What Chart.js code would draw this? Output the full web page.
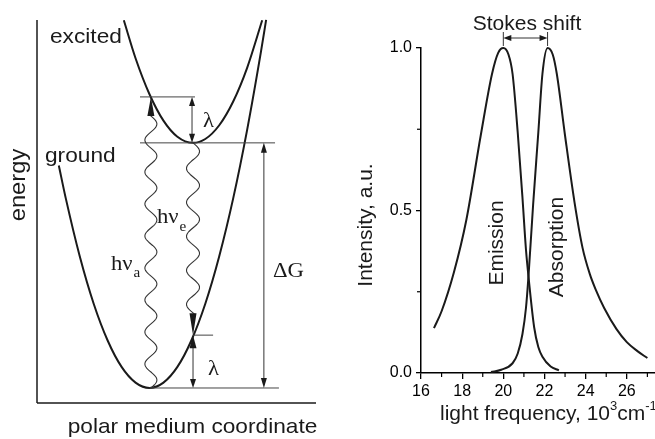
<!DOCTYPE html>
<html><head><meta charset="utf-8">
<script src="https://cdn.jsdelivr.net/npm/chart.js@4.4.1/dist/chart.umd.min.js"></script>
<style>
html,body{margin:0;padding:0;background:#fff;}
#wrap{position:relative;width:655px;height:439px;overflow:hidden;background:#fff}
#left{position:absolute;left:0;top:0;width:330px;height:439px}
#right{position:absolute;left:330px;top:0;width:325px;height:439px}
canvas{display:block}
</style></head><body>
<div id="wrap">
  <div id="left"><canvas id="c1" width="330" height="439"></canvas></div>
  <div id="right"><canvas id="c2" width="325" height="439"></canvas></div>
</div>
<script>
// ---------- Right panel: spectra ----------
const emissionFreq = [16.63, 17.0, 17.6, 18.2, 18.9, 19.45, 19.75, 20.0, 20.25, 20.45, 20.7, 20.93, 21.1, 21.25, 21.5, 21.7, 21.9, 22.3, 22.7];
const emissionInt  = [0.138, 0.19, 0.31, 0.47, 0.73, 0.92, 0.985, 1.0, 0.98, 0.92, 0.74, 0.54, 0.38, 0.28, 0.14, 0.08, 0.05, 0.02, 0.008];
const absorptionFreq = [19.4, 19.9, 20.45, 20.7, 20.93, 21.1, 21.22, 21.45, 21.7, 21.9, 22.15, 22.4, 22.6, 23.0, 23.46, 23.85, 24.2, 24.5, 24.9, 25.5, 26.0, 26.5, 27.0];
const absorptionInt  = [0.003, 0.01, 0.03, 0.06, 0.12, 0.2, 0.295, 0.52, 0.74, 0.92, 1.0, 0.98, 0.92, 0.73, 0.525, 0.385, 0.305, 0.255, 0.2, 0.135, 0.095, 0.068, 0.046];
const freqTicks = [16, 18, 20, 22, 24, 26];
const freqMinorTicks = [17, 19, 21, 23, 25, 27];
const intensityTicks = [0, 0.5, 1.0];
const intensityMinorTicks = [0.25, 0.75];

// ---------- Left panel: free-energy parabolas ----------
const groundCoord  = [-3.25, -3, -2.5, -2, -1.5, -1, -0.5, 0, 0.5, 1, 1.5, 2, 2.5, 3, 3.5, 4, 4.18];
const groundEnergy = [5.81, 4.95, 3.44, 2.2, 1.24, 0.55, 0.14, 0, 0.14, 0.55, 1.24, 2.2, 3.44, 4.95, 6.74, 8.8, 9.61];
const excitedCoord  = [-0.92, -0.5, 0, 0.5, 1, 1.56, 2, 2.5, 3, 3.5, 4.04];
const excitedEnergy = [9.6, 8.61, 7.67, 6.98, 6.56, 6.4, 6.5, 6.86, 7.48, 8.36, 9.6];
const groundMin = [0, 0];          // [coordinate, energy]
const excitedMin = [1.56, 6.4];    // [coordinate, energy]
const absorptionTransition = [0.05, 0, 7.6];   // [coordinate, from energy, to energy]
const emissionTransition = [1.56, 6.4, 1.38];  // [coordinate, from energy, to energy]
const deltaGCoord = 4.1;

const INK = '#1a1a1a';
const SANS = '"Liberation Sans", Arial, Helvetica, sans-serif';
const SERIF = '"Liberation Serif", "Times New Roman", serif';

function txt(ctx, s, x, y, font, align, sx, rot) {
  ctx.save();
  ctx.translate(x, y);
  if (rot) ctx.rotate(rot);
  ctx.scale(sx || 1, 1);
  ctx.font = font; ctx.fillStyle = INK;
  ctx.textAlign = align || 'left'; ctx.textBaseline = 'alphabetic';
  ctx.fillText(s, 0, 0);
  ctx.restore();
}
function txtW(ctx, s, font, sx) { ctx.save(); ctx.font = font; const w = ctx.measureText(s).width * (sx || 1); ctx.restore(); return w; }
function head(ctx, x, y, dx, dy, len, hw) {
  ctx.beginPath();
  ctx.moveTo(x, y);
  ctx.lineTo(x - dx * len - dy * hw, y - dy * len + dx * hw);
  ctx.lineTo(x - dx * len + dy * hw, y - dy * len - dx * hw);
  ctx.closePath(); ctx.fill();
}
function line(ctx, x1, y1, x2, y2, w, c) {
  ctx.beginPath(); ctx.lineWidth = w; ctx.strokeStyle = c || INK;
  ctx.moveTo(x1, y1); ctx.lineTo(x2, y2); ctx.stroke();
}
function wave(ctx, x, y0, y1, amp, period) {
  ctx.beginPath(); ctx.lineWidth = 1.1; ctx.strokeStyle = '#333';
  const n = Math.ceil(Math.abs(y1 - y0));
  for (let i = 0; i <= n; i++) {
    const y = y0 + (y1 - y0) * i / n;
    const xx = x + amp * Math.sin(2 * Math.PI * Math.abs(y - y0) / period);
    if (i === 0) ctx.moveTo(xx, y); else ctx.lineTo(xx, y);
  }
  ctx.stroke();
}

const leftDeco = {
  id: 'leftDeco',
  afterDatasetsDraw(chart) {
    const ctx = chart.ctx, a = chart.chartArea;
    const X = v => chart.scales.x.getPixelForValue(v);
    const Y = v => chart.scales.y.getPixelForValue(v);
    ctx.save();
    ctx.fillStyle = INK;
    // axes
    line(ctx, a.left, a.top, a.left, a.bottom, 1.5);
    line(ctx, a.left, a.bottom, a.right, a.bottom, 1.5);
    // level lines
    const yAbsTop = Y(absorptionTransition[2]);
    const yExc = Y(excitedMin[1]);
    const yGr = Y(groundMin[1]);
    const yEmBot = Y(emissionTransition[2]);
    line(ctx, X(-0.34), yAbsTop, X(1.63), yAbsTop, 1, '#444');
    line(ctx, X(-0.34), yExc, X(4.5), yExc, 1, '#444');
    line(ctx, X(groundMin[0]), yGr, X(4.64), yGr, 1, '#444');
    line(ctx, X(emissionTransition[0]), yEmBot, X(2.28), yEmBot, 1, '#444');
    // upper lambda arrow
    const xl = X(excitedMin[0]) - 1;
    line(ctx, xl, yAbsTop + 8, xl, yExc - 8, 1, '#333');
    head(ctx, xl, yAbsTop, 0, -1, 9, 3);
    head(ctx, xl, yExc, 0, 1, 9, 3);
    // lower lambda arrow
    const xe = X(emissionTransition[0]);
    line(ctx, xe, yEmBot + 10, xe, yGr - 8, 1, '#333');
    head(ctx, xe, yEmBot, 0, -1, 13, 3.5);
    head(ctx, xe, yGr, 0, 1, 9, 3);
    // Delta G arrow
    const xg = X(deltaGCoord);
    line(ctx, xg, yExc + 8, xg, yGr - 8, 1, '#333');
    head(ctx, xg, yExc, 0, -1, 10, 3);
    head(ctx, xg, yGr, 0, 1, 10, 3);
    // absorption photon
    const xa = X(absorptionTransition[0]);
    wave(ctx, xa, Y(absorptionTransition[1]), yAbsTop + 18, 6, 32);
    head(ctx, xa, yAbsTop, 0, -1, 19, 3.5);
    // emission photon
    wave(ctx, xe, Y(emissionTransition[1]), yEmBot - 21, 6.5, 34);
    head(ctx, xe, yEmBot, 0, 1, 22, 3.5);
    // texts
    const F = '21px ' + SANS, S = 1.08;
    txt(ctx, 'excited', 50, 43, F, 'left', S);
    txt(ctx, 'ground', 45, 162, F, 'left', S);
    txt(ctx, 'energy', 25, 185, '22px ' + SANS, 'center', S, -Math.PI / 2);
    txt(ctx, 'polar medium coordinate', 192.5, 433, F, 'center', S);
    const FS = '21px ' + SERIF, FSub = '14px ' + SERIF;
    txt(ctx, 'h\u03BD', 111, 270, FS, 'left', S);
    txt(ctx, 'a', 111 + txtW(ctx, 'h\u03BD', FS, S) + 1, 277, FSub, 'left', S);
    txt(ctx, 'h\u03BD', 157, 223, FS, 'left', S);
    txt(ctx, 'e', 157 + txtW(ctx, 'h\u03BD', FS, S) + 1, 231, FSub, 'left', S);
    txt(ctx, '\u0394G', 273, 277, FS, 'left', S);
    txt(ctx, '\u03BB', 203, 127, FS, 'left', S);
    txt(ctx, '\u03BB', 208, 375, FS, 'left', S);
    ctx.restore();
  }
};

function argmax(arr) { let k = 0; arr.forEach((v, i) => { if (v > arr[k]) k = i; }); return k; }

const rightDeco = {
  id: 'rightDeco',
  afterDraw(chart) {
    const ctx = chart.ctx, a = chart.chartArea;
    const X = v => chart.scales.x.getPixelForValue(v);
    const Y = v => chart.scales.y.getPixelForValue(v);
    ctx.save();
    ctx.fillStyle = INK;
    // minor ticks
    freqMinorTicks.forEach(v => line(ctx, X(v), a.bottom, X(v), a.bottom + 4, 1.2, '#000'));
    intensityMinorTicks.forEach(v => line(ctx, a.left, Y(v), a.left - 4, Y(v), 1.2, '#000'));
    // Stokes shift marker
    const xe = X(emissionFreq[argmax(emissionInt)]);
    const xa = X(absorptionFreq[argmax(absorptionInt)]);
    line(ctx, xe, 32, xe, a.top - 2, 1, '#333');
    line(ctx, xa, 32, xa, a.top - 2, 1, '#333');
    line(ctx, xe + 6, 38, xa - 6, 38, 1, '#333');
    head(ctx, xe, 38, -1, 0, 8, 3);
    head(ctx, xa, 38, 1, 0, 8, 3);
    const F = '21px ' + SANS;
    txt(ctx, 'Stokes shift', 197, 30, F, 'center');
    txt(ctx, 'Intensity, a.u.', 42, 225, F, 'center', 1, -Math.PI / 2);
    txt(ctx, 'Emission', 173, 243, F, 'center', 1, -Math.PI / 2);
    txt(ctx, 'Absorption', 233, 247, F, 'center', 1, -Math.PI / 2);
    // x axis title with superscripts
    let x = 110;
    const FSup = '13px ' + SANS;
    txt(ctx, 'light frequency, 10', x, 420, F); x += txtW(ctx, 'light frequency, 10', F);
    txt(ctx, '3', x, 410, FSup); x += txtW(ctx, '3', FSup);
    txt(ctx, 'cm', x, 420, F); x += txtW(ctx, 'cm', F);
    txt(ctx, '-1', x, 410, FSup);
    ctx.restore();
  }
};

new Chart(document.getElementById('c1'), {
  type: 'scatter',
  data: {
    datasets: [
      { data: groundCoord.map((c, i) => ({ x: c, y: groundEnergy[i] })) },
      { data: excitedCoord.map((c, i) => ({ x: c, y: excitedEnergy[i] })) }
    ].map(d => Object.assign(d, { showLine: true, borderColor: INK, borderWidth: 2, pointRadius: 0, cubicInterpolationMode: 'monotone', clip: false }))
  },
  options: {
    responsive: false, animation: false,
    layout: { padding: { left: 37, right: 14, top: 20, bottom: 36 } },
    plugins: { legend: { display: false }, tooltip: { enabled: false } },
    scales: {
      x: { type: 'linear', display: false, min: -4.032, max: 5.968 },
      y: { type: 'linear', display: false, min: -0.392, max: 9.608 }
    }
  },
  plugins: [leftDeco]
});

new Chart(document.getElementById('c2'), {
  type: 'line',
  data: {
    datasets: [
      { label: 'Emission', data: emissionFreq.map((f, i) => ({ x: f, y: emissionInt[i] })) },
      { label: 'Absorption', data: absorptionFreq.map((f, i) => ({ x: f, y: absorptionInt[i] })) }
    ].map(d => Object.assign(d, { borderColor: INK, borderWidth: 2, pointRadius: 0, cubicInterpolationMode: 'monotone', clip: false, fill: false }))
  },
  options: {
    responsive: false, animation: false,
    layout: { padding: { left: 0, right: 0, top: 48, bottom: 0 } },
    plugins: { legend: { display: false }, tooltip: { enabled: false } },
    scales: {
      x: {
        type: 'linear', min: 16, max: 27.37,
        afterBuildTicks: s => { s.ticks = freqTicks.map(v => ({ value: v })); },
        afterFit: s => { s.height = 66; },
        grid: { drawOnChartArea: false, drawTicks: true, tickLength: 6, color: '#000', lineWidth: 1.3 },
        border: { display: true, color: '#000', width: 1.5 },
        ticks: { color: '#000', font: { family: 'Liberation Sans', size: 16 }, padding: 3, maxRotation: 0, autoSkip: false, callback: v => String(v) }
      },
      y: {
        type: 'linear', min: 0, max: 1,
        afterBuildTicks: s => { s.ticks = intensityTicks.map(v => ({ value: v })); },
        afterFit: s => { s.width = 91; },
        grid: { drawOnChartArea: false, drawTicks: true, tickLength: 5, color: '#000', lineWidth: 1.3 },
        border: { display: true, color: '#000', width: 1.5 },
        ticks: { color: '#000', font: { family: 'Liberation Sans', size: 16 }, padding: 4, autoSkip: false, callback: v => Number(v).toFixed(1) }
      }
    }
  },
  plugins: [rightDeco]
});
</script>
</body></html>
